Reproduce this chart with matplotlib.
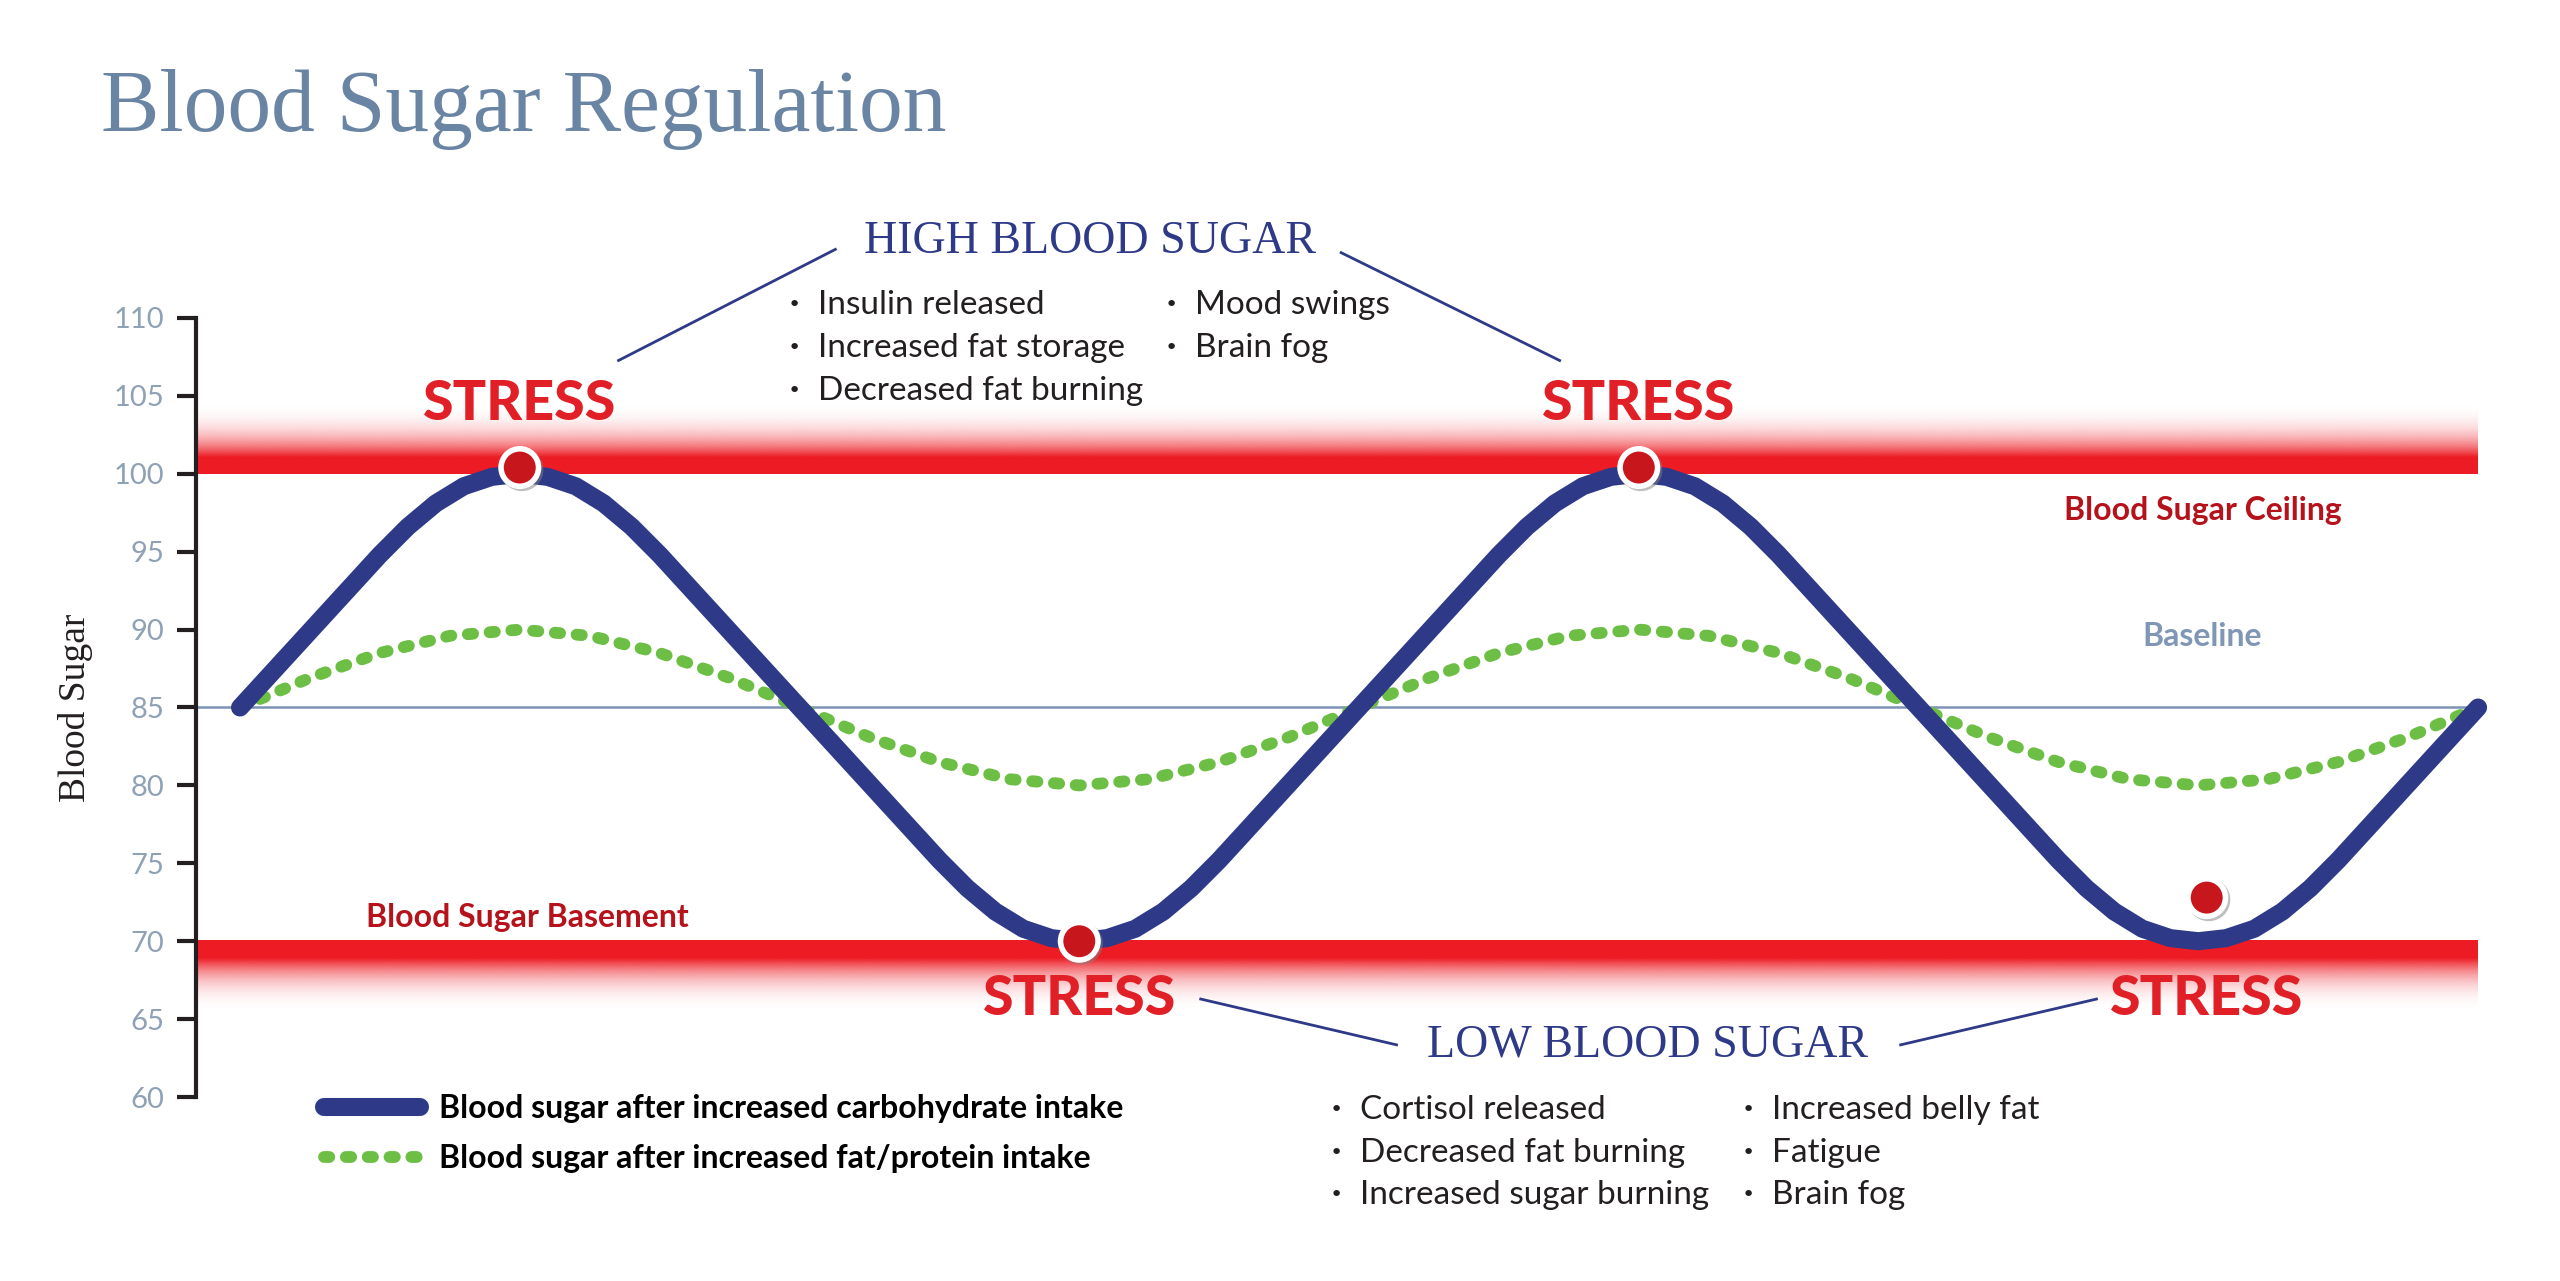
import numpy as np
import matplotlib.pyplot as plt
import matplotlib.colors as mcolors
import matplotlib.patheffects as pe

# x = quarter cycles from the start, y = blood sugar
carb_x = [0.0, 0.5, 0.6, 0.7, 0.8, 0.9, 1.0, 1.1, 1.2, 1.3, 1.4, 1.5,
          2.5, 2.6, 2.7, 2.8, 2.9, 3.0, 3.1, 3.2, 3.3, 3.4, 3.5,
          4.5, 4.6, 4.7, 4.8, 4.9, 5.0, 5.1, 5.2, 5.3, 5.4, 5.5,
          6.5, 6.6, 6.7, 6.8, 6.9, 7.0, 7.1, 7.2, 7.3, 7.4, 7.5, 8.0]
carb_y = [85.0, 94.8, 96.6, 98.1, 99.2, 99.8, 100.0, 99.8, 99.2, 98.1, 96.6, 94.8,
          75.2, 73.4, 71.9, 70.8, 70.2, 70.0, 70.2, 70.8, 71.9, 73.4, 75.2,
          94.8, 96.6, 98.1, 99.2, 99.8, 100.0, 99.8, 99.2, 98.1, 96.6, 94.8,
          75.2, 73.4, 71.9, 70.8, 70.2, 70.0, 70.2, 70.8, 71.9, 73.4, 75.2, 85.0]

fat_x = [0.0, 0.25, 0.5, 0.75, 1.0, 1.25, 1.5, 1.75, 2.0, 2.25, 2.5, 2.75,
         3.0, 3.25, 3.5, 3.75, 4.0, 4.25, 4.5, 4.75, 5.0, 5.25, 5.5, 5.75,
         6.0, 6.25, 6.5, 6.75, 7.0, 7.25, 7.5, 7.75, 8.0]
fat_y = [85.0, 86.9, 88.5, 89.6, 90.0, 89.6, 88.5, 86.9, 85.0, 83.1, 81.5, 80.4,
         80.0, 80.4, 81.5, 83.1, 85.0, 86.9, 88.5, 89.6, 90.0, 89.6, 88.5, 86.9,
         85.0, 83.1, 81.5, 80.4, 80.0, 80.4, 81.5, 83.1, 85.0]

stress_x = [1.0, 3.0, 5.0, 7.03]
stress_y = [100.4, 70.0, 100.4, 72.8]

ceiling = 100
basement = 70
baseline = 85
yticks = [60, 65, 70, 75, 80, 85, 90, 95, 100, 105, 110]

high_items = [["Insulin released", "Increased fat storage", "Decreased fat burning"],
              ["Mood swings", "Brain fog"]]
low_items = [["Cortisol released", "Decreased fat burning", "Increased sugar burning"],
             ["Increased belly fat", "Fatigue", "Brain fog"]]

NAVY = "#2E3A87"
GREEN = "#6DBE45"
RED = "#ED1C24"
DARKRED = "#B5121B"
DOT = "#C8161D"
SLATE = "#6A85A3"
TEXT = "#231F20"

fig = plt.figure(figsize=(25.6, 12.81), dpi=100)
ax = fig.add_axes([0.0766, 0.1436, 0.8914, 0.6082])
x0, x1 = -0.157, 8.0

# ceiling / basement bars with fades
ax.axhspan(ceiling, ceiling + 1.1, color=RED, lw=0, zorder=1)
ax.axhspan(basement - 1.1, basement + 0.1, color=RED, lw=0, zorder=1)
grad = np.zeros((200, 1, 4))
grad[..., :3] = mcolors.to_rgb(RED)
grad[:, 0, 3] = np.linspace(1, 0, 200) ** 2.6
ax.imshow(grad, extent=(x0, x1, ceiling + 1.1, ceiling + 4.8), origin="lower",
          aspect="auto", zorder=1, interpolation="bilinear")
ax.imshow(grad[::-1], extent=(x0, x1, basement - 4.8, basement - 1.1), origin="lower",
          aspect="auto", zorder=1, interpolation="bilinear")

ax.axhline(baseline, color="#7C93B5", lw=1.8, zorder=2)

ax.plot(fat_x, fat_y, color=GREEN, lw=8.5, dashes=(0.45, 1.4), dash_capstyle="round",
        zorder=3, clip_on=False, label="Blood sugar after increased fat/protein intake")
ax.plot(carb_x, carb_y, color=NAVY, lw=13, solid_capstyle="round",
        solid_joinstyle="round", zorder=4, clip_on=False,
        label="Blood sugar after increased carbohydrate intake")

ax.plot(stress_x, stress_y, "o", ms=27, mfc=DOT, mec="white", mew=4, zorder=6,
        clip_on=False,
        path_effects=[pe.SimpleLineShadow(offset=(1.5, -1.5), shadow_color="gray", alpha=0.5),
                      pe.Normal()])

ax.set_xlim(x0, x1)
ax.set_ylim(60, 110)

for s in ["top", "right", "bottom"]:
    ax.spines[s].set_visible(False)
ax.spines["left"].set_linewidth(3)
ax.spines["left"].set_color(TEXT)
ax.set_xticks([])
ax.set_yticks(yticks)
ax.tick_params(axis="y", length=14, width=3, color=TEXT, pad=9,
               labelsize=21, labelcolor="#8EA1B5")
for lab in ax.get_yticklabels():
    lab.set_family("Lato")
ax.set_ylabel("Blood Sugar", family="Liberation Serif", fontsize=27, color=TEXT)
ax.yaxis.set_label_coords(-0.045, 0.5)

# STRESS labels
stress_lab_y = [104.5, 66.3, 104.5, 66.3]
for sx, sy in zip(stress_x, stress_lab_y):
    ax.text(sx, sy, "STRESS", ha="center", va="center", fontsize=40, color="#E01F27",
            family="Lato", fontweight="black", zorder=7)

# leader lines
leaders = [((1.353, 2.128), (107.27, 114.4)), ((3.936, 4.717), (114.19, 107.27)),
           ((3.434, 4.134), (66.29, 63.35)), ((5.936, 6.636), (63.35, 66.29))]
for lx, ly in leaders:
    ax.plot(lx, ly, color=NAVY, lw=2, clip_on=False)

ax.text(3.04, 114.9, "HIGH BLOOD SUGAR", ha="center", va="center", fontsize=33,
        family="Liberation Serif", color=NAVY)
ax.text(5.03, 63.35, "LOW BLOOD SUGAR", ha="center", va="center", fontsize=33,
        family="Liberation Serif", color=NAVY)

def bullets(cols, xs, ys):
    for col, bx in zip(cols, xs):
        for item, by in zip(col, ys):
            ax.text(bx, by, "\u2022", ha="center", va="center", fontsize=16,
                    color=TEXT, family="DejaVu Sans")
            ax.text(bx + 0.085, by, item, ha="left", va="center", fontsize=24,
                    color=TEXT, family="Lato")

bullets(high_items, [1.98, 3.33], [110.84, 108.1, 105.3])
bullets(low_items, [3.92, 5.39], [59.16, 56.44, 53.71])

ax.text(7.015, 97.63, "Blood Sugar Ceiling", ha="center", va="center", fontsize=23,
        color=DARKRED, family="Lato", fontweight="bold")
ax.text(7.015, 89.56, "Baseline", ha="center", va="center", fontsize=23,
        color="#7F96B4", family="Lato", fontweight="bold")
ax.text(1.026, 71.53, "Blood Sugar Basement", ha="center", va="center", fontsize=23,
        color=DARKRED, family="Lato", fontweight="bold")

h, l = ax.get_legend_handles_labels()
ax.legend(h[::-1], l[::-1], loc="upper left", bbox_to_anchor=(0.1205, 0.1585),
          bbox_transform=fig.transFigure, frameon=False, borderpad=0,
          handlelength=3.0, handletextpad=0.6, labelspacing=0.66,
          prop={"family": "Lato", "weight": "bold", "size": 23})

fig.text(0.0395, 0.898, "Blood Sugar Regulation", fontsize=63, family="Liberation Serif",
         color=SLATE, va="baseline", ha="left")

fig.savefig("out.png", dpi=100, facecolor="white")
